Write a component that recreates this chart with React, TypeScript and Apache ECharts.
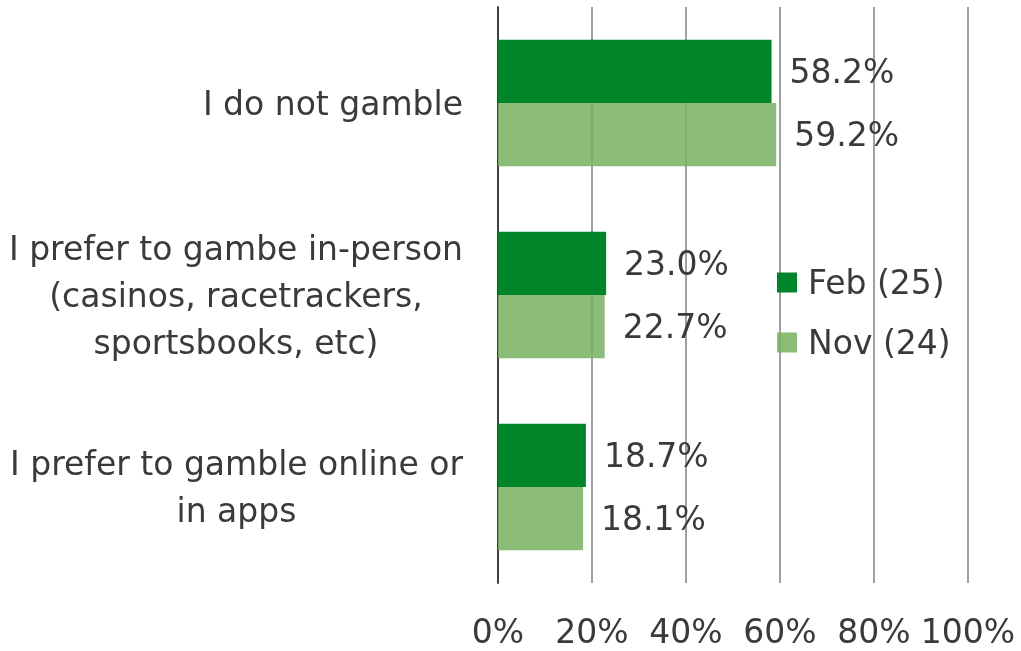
import React, { useEffect, useRef } from "react";
import * as echarts from "echarts";

const categories = [
  "I do not gamble",
  "I prefer to gambe in-person\n(casinos, racetrackers,\nsportsbooks, etc)",
  "I prefer to gamble online or\nin apps",
];
const seriesNames = ["Feb (25)", "Nov (24)"];
const febValues = [58.2, 23.0, 18.7];
const novValues = [59.2, 22.7, 18.1];
const tickValues = [0, 20, 40, 60, 80, 100];

const FONT = "DejaVu Sans";
const FS = 33;
const TEXT = "#3a3a3a";

export default function App() {
  const ref = useRef<HTMLDivElement>(null);
  useEffect(() => {
    if (!ref.current) return;
    const chart = echarts.init(ref.current, undefined, { renderer: "svg" });
    const label = {
      show: true,
      position: "right",
      distance: 18,
      formatter: (p: any) => `${p.value.toFixed(1)}%`,
      fontFamily: FONT,
      fontSize: FS,
      color: TEXT,
    };
    chart.setOption({
      animation: false,
      textStyle: { fontFamily: FONT },
      grid: { left: 498, right: 53, top: 7, bottom: 68, containLabel: false },
      legend: {
        orient: "vertical",
        left: 772,
        top: 261,
        itemWidth: 20,
        itemHeight: 20,
        itemGap: 27,
        icon: "rect",
        textStyle: { fontFamily: FONT, fontSize: FS, color: TEXT, padding: [0, 0, 0, 6] },
        data: seriesNames,
      },
      xAxis: {
        type: "value",
        min: tickValues[0],
        max: tickValues[tickValues.length - 1],
        interval: 20,
        axisLine: { show: false },
        axisTick: { show: false },
        splitLine: { show: true, lineStyle: { color: "#a0a0a0", width: 2 } },
        axisLabel: {
          formatter: (v: number) => `${v}%`,
          fontFamily: FONT,
          fontSize: FS,
          color: TEXT,
          margin: 32,
        },
      },
      yAxis: {
        type: "category",
        data: categories,
        inverse: true,
        axisLine: { show: true, lineStyle: { color: "#404040", width: 2 } },
        axisTick: { show: false },
        axisLabel: {
          fontFamily: FONT,
          fontSize: FS,
          color: TEXT,
          margin: 35,
          lineHeight: 47,
          align: "right",
          formatter: (v: string) =>
            v
              .split("\n")
              .map((line) => `{c|${line}}`)
              .join("\n"),
          rich: {
            c: {
              fontFamily: FONT,
              fontSize: FS,
              color: TEXT,
              lineHeight: 47,
              align: "center",
            },
          },
        },
      },
      series: [
        {
          name: seriesNames[0],
          type: "bar",
          data: febValues,
          barGap: "0%",
          barCategoryGap: "34%",
          itemStyle: { color: "#00852b" },
          label,
        },
        {
          name: seriesNames[1],
          type: "bar",
          data: novValues,
          barGap: "0%",
          barCategoryGap: "34%",
          itemStyle: { color: "rgba(119,177,96,0.85)" },
          label,
        },
      ],
    });
    return () => chart.dispose();
  }, []);
  return (
    <div
      ref={ref}
      style={{ position: "fixed", left: 0, top: 0, width: 1021, height: 651 }}
    />
  );
}
